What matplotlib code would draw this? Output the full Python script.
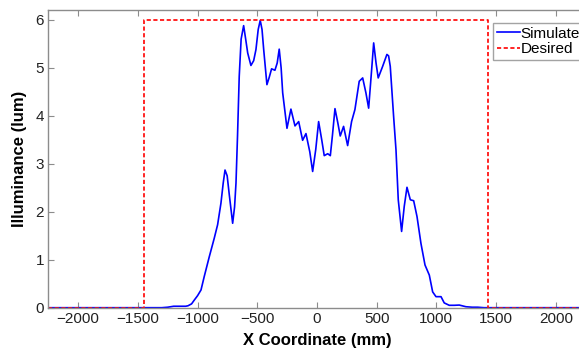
import matplotlib
matplotlib.use("Agg")
import matplotlib.pyplot as plt

plt.rcParams['font.family'] = ['Liberation Sans', 'DejaVu Sans']

# Simulated illuminance
sim_x = [-2250, -1300, -1250, -1200, -1150, -1100, -1080, -1050, -1027, -1000, -971, -944,
         -902, -860, -832, -804, -785, -770, -752, -734, -706, -690, -678, -665, -651, -635,
         -614, -597, -580, -553, -530, -511, -492, -475, -460, -446, -419, -400, -380, -352,
         -333, -316, -300, -287, -251, -218, -184, -153, -120, -92, -60, -36, -10, 14, 40,
         61, 90, 112, 130, 151, 175, 195, 223, 257, 290, 318, 354, 383, 410, 433, 458, 475,
         495, 513, 550, 586, 600, 614, 642, 662, 681, 709, 731, 754, 782, 810, 838, 871, 905,
         941, 969, 997, 1039, 1066, 1108, 1150, 1192, 1248, 1300, 1346, 1400, 2250]
sim_y = [0.0, 0.0, 0.01, 0.03, 0.03, 0.03, 0.04, 0.08, 0.16, 0.25, 0.37, 0.65,
         1.06, 1.45, 1.73, 2.18, 2.6, 2.87, 2.75, 2.35, 1.76, 2.1, 2.6, 3.6, 4.82, 5.6,
         5.88, 5.6, 5.31, 5.05, 5.15, 5.38, 5.8, 5.99, 5.8, 5.38, 4.65, 4.8, 4.98, 4.95,
         5.1, 5.39, 5.0, 4.48, 3.74, 4.14, 3.79, 3.88, 3.49, 3.63, 3.25, 2.84, 3.3, 3.88, 3.5,
         3.17, 3.21, 3.17, 3.6, 4.15, 3.85, 3.58, 3.78, 3.38, 3.88, 4.13, 4.72, 4.79, 4.48, 4.16, 4.96, 5.52,
         5.1, 4.79, 5.03, 5.28, 5.25, 5.03, 3.99, 3.29, 2.25, 1.59, 2.11, 2.51, 2.25, 2.23, 1.90, 1.34, 0.89,
         0.68, 0.33, 0.23, 0.23, 0.10, 0.05, 0.05, 0.055, 0.02, 0.01, 0.01, 0.0, 0.0]

# Desired profile
des_x = [-2250, -1445, -1445, 1430, 1430, 2250]
des_y = [0, 0, 6, 6, 0, 0]

W, H = 579, 352
fig = plt.figure(figsize=(W / 100, H / 100), dpi=100)
ax = fig.add_axes([48.3 / W, 1 - 307.7 / H, 537.3 / W, 297.4 / H])

ax.plot(sim_x, sim_y, color='#0000ff', lw=1.2, label='Simulated')
ax.plot(des_x, des_y, color='#ff0000', lw=1.2, ls=(0, (2.5, 1.5)), label='Desired')

ax.set_xlim(-2250, 2250)
ax.set_ylim(0, 6.2)
ax.set_xticks([-2000, -1500, -1000, -500, 0, 500, 1000, 1500, 2000])
ax.set_yticks([0, 1, 2, 3, 4, 5, 6])

gray = '#8c8c8c'
for s in ax.spines.values():
    s.set_color(gray)
    s.set_linewidth(1.0)
ax.tick_params(direction='in', length=4, color=gray, top=True, right=True,
               labelsize=11, labelcolor='#222222', pad=3)

ax.set_xlabel('X Coordinate (mm)', fontsize=12, fontweight='bold', labelpad=5)
ax.set_ylabel('Illuminance (lum)', fontsize=12, fontweight='bold', labelpad=6)

leg = ax.legend(loc='upper left', bbox_to_anchor=(493 / W, 1 - 22.7 / H),
                bbox_transform=fig.transFigure, fontsize=11, frameon=True,
                fancybox=False, borderpad=0.25, handlelength=1.5, handletextpad=0.05,
                labelspacing=0.1, borderaxespad=0)
leg.get_frame().set_edgecolor(gray)
leg.get_frame().set_linewidth(1.0)

fig.savefig('out.png', dpi=100)
